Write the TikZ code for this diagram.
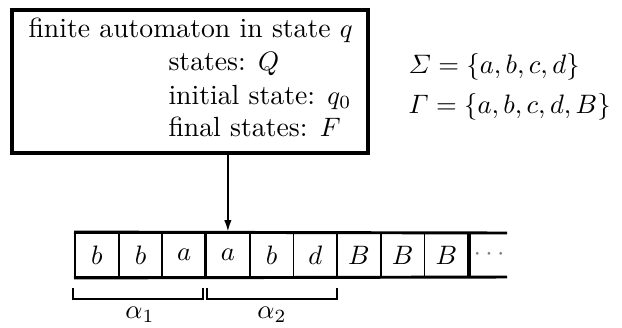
\documentclass[tikz,border=0pt]{standalone}
\usepackage{amsmath}
\usetikzlibrary{arrows.meta}
\begin{document}
\begin{tikzpicture}[x=0.375pt,y=-0.375pt,
  font=\fontsize{10.4}{12.5}\selectfont,
  boxstyle/.style={draw,line width=1.2pt,minimum width=133.5pt,minimum height=53.6pt,inner sep=0pt},
  cell/.style={draw,line width=0.7pt,minimum width=16.39pt,minimum height=16.5pt,inner sep=0pt,anchor=west},
  txt/.style={anchor=base west,inner sep=0pt},
  brk/.style={line width=1pt},
  tapeline/.style={line width=1.1pt}]
\useasboundingbox (0,0) rectangle (622,327);
% finite control
\node[boxstyle] (fa) at (190,81.5) {};
\node[txt] (l1) at (28,37) {finite automaton in state $q$};
\node[txt] (l2) at (168,70) {states: $Q$};
\node[txt] (l3) at (168,104) {initial state: $q_0$};
\node[txt] (l4) at (168,136) {final states: $F$};
% alphabets
\node[txt] (sig) at (408,73) {$\varSigma=\{a,b,c,d\}$};
\node[txt] (gam) at (408,113) {$\varGamma=\{a,b,c,d,B\}$};
% tape
\node[cell] (c1) at (74,255) {$b$};
\node[cell] (c2) at (117.7,255) {$b$};
\node[cell] (c3) at (161.4,255) {$a$};
\node[cell] (c4) at (205.1,255) {$a$};
\node[cell] (c5) at (248.8,255) {$b$};
\node[cell] (c6) at (292.5,255) {$d$};
\node[cell] (c7) at (336.2,255) {$B$};
\node[cell] (c8) at (379.9,255) {$B$};
\node[cell] (c9) at (423.6,255) {$B$};
\node[anchor=west,inner sep=0pt,text=gray] (c10) at (473,255) {$\cdots$};
\coordinate (te) at (507,233);
\coordinate (be) at (507,277);
\draw[tapeline] (c1.north west) -- (te);
\draw[tapeline] (c1.south west) -- (be);
\draw[line width=1pt] (c4.north west) -- (c4.south west);
\draw[line width=1pt] (c9.north east) -- (c9.south east);
% head
\draw[line width=0.8pt,-{Latex[length=4.5pt,width=2.8pt]}] (c4.north |- fa.south) -- (c4.north);
% brackets
\coordinate (a1) at (73,288);
\coordinate (a2) at (73,299);
\coordinate (a3) at (203,299);
\coordinate (a4) at (203,288);
\coordinate (b1) at (207,288);
\coordinate (b2) at (207,299);
\coordinate (b3) at (337,299);
\coordinate (b4) at (337,288);
\draw[brk] (a1) -- (a2) -- (a3) -- (a4);
\draw[brk] (b1) -- (b2) -- (b3) -- (b4);
\node[anchor=base,inner sep=0pt] (al1) at (140,318) {$\alpha_1$};
\node[anchor=base,inner sep=0pt] (al2) at (272,318) {$\alpha_2$};
\end{tikzpicture}
\end{document}
